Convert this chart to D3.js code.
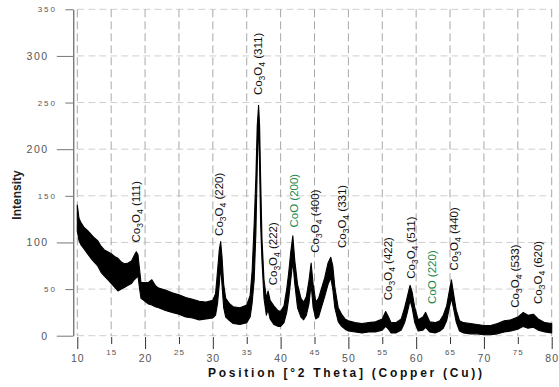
<!DOCTYPE html>
<html>
<head>
<meta charset="utf-8">
<script src="https://cdn.jsdelivr.net/npm/d3@7"></script>
<style>
  html, body { margin: 0; padding: 0; background: #fff; }
  svg { display: block; font-family: "Liberation Sans", Arial, sans-serif; }
</style>
</head>
<body>
<script>
// XRD trace of the cobalt oxide sample: band of recorded counts (low / high) per 2θ position
const twoTheta = [10.0, 10.25, 10.5, 11.0, 11.5, 12.0, 12.5, 13.0, 13.5, 14.0, 14.5, 15.0, 15.5, 16.0, 16.5, 17.0, 17.5, 18.0, 18.4, 18.7, 18.95, 19.2, 19.4, 19.8, 20.5, 21.0, 21.5, 22.0, 23.0, 24.0, 25.0, 26.0, 27.0, 28.0, 29.0, 30.0, 30.4, 30.7, 30.95, 31.15, 31.35, 31.6, 31.9, 32.5, 33.0, 34.0, 35.0, 35.5, 35.8, 36.1, 36.35, 36.55, 36.75, 36.9, 37.05, 37.25, 37.55, 37.9, 38.15, 38.45, 39.0, 39.6, 40.0, 40.5, 40.9, 41.2, 41.5, 41.8, 42.1, 42.5, 43.0, 43.4, 43.8, 44.2, 44.5, 44.8, 45.2, 45.6, 46.0, 46.5, 47.0, 47.4, 47.7, 48.0, 48.5, 49.0, 49.5, 50.0, 51.0, 52.0, 53.0, 54.0, 55.0, 55.5, 55.8, 56.3, 57.0, 57.8, 58.3, 58.7, 59.1, 59.4, 59.8, 60.3, 61.0, 61.4, 62.0, 62.8, 63.5, 64.0, 64.5, 64.9, 65.2, 65.5, 65.9, 66.4, 67.0, 68.0, 69.0, 70.0, 71.0, 72.0, 73.0, 74.0, 75.0, 75.8, 76.5, 77.3, 78.0, 79.0, 80.0];
const countsLow = [112, 102, 98, 93, 88, 83, 79, 75, 68, 64, 60, 56, 52, 48, 50, 52, 54, 56, 60, 62, 64, 50, 40, 38, 34, 33, 31, 30, 27, 25, 23, 20, 19, 17, 18, 19, 22, 35, 55, 75, 55, 30, 20, 16, 13, 12, 14, 20, 35, 60, 110, 180, 235, 180, 120, 80, 40, 22, 28, 18, 12, 10, 10, 14, 25, 40, 60, 80, 55, 30, 20, 17, 22, 35, 55, 30, 18, 20, 30, 42, 55, 62, 50, 30, 15, 10, 7, 5, 4, 3, 4, 4, 6, 10, 8, 3, 3, 6, 14, 25, 38, 30, 14, 5, 6, 9, 4, 3, 5, 8, 16, 30, 40, 30, 15, 5, 3, 2, 2, 1, 1, 2, 4, 5, 7, 10, 8, 9, 6, 4, 3];
const countsHigh = [140, 126, 122, 116, 113, 109, 105, 102, 96, 92, 90, 88, 85, 83, 79, 77, 78, 80, 86, 90, 87, 70, 57, 57, 57, 60, 54, 51, 49, 46, 44, 41, 39, 37, 36, 38, 45, 70, 92, 101, 85, 55, 40, 34, 31, 30, 33, 43, 70, 120, 170, 225, 247, 225, 169, 104, 60, 40, 48, 38, 32, 27, 26, 32, 50, 68, 90, 107, 80, 55, 40, 36, 42, 60, 78, 55, 36, 40, 50, 62, 78, 84, 75, 52, 30, 23, 18, 16, 14, 13, 14, 15, 18, 26, 22, 14, 14, 18, 30, 42, 54, 47, 30, 17, 20, 25, 15, 14, 16, 22, 32, 48, 60, 46, 28, 16, 14, 13, 12, 11, 11, 13, 16, 17, 20, 25, 22, 23, 18, 14, 13];

// Reflection labels: phase, Miller indices, 2θ position and the count where the label starts
const peakPhase = ["Co3O4", "Co3O4", "Co3O4", "Co3O4", "CoO", "Co3O4", "Co3O4", "Co3O4", "Co3O4", "CoO", "Co3O4", "Co3O4", "Co3O4"];
const peakHkl = ["(111)", "(220)", "(311)", "(222)", "(200)", "(400)", "(331)", "(422)", "(511)", "(220)", "(440)", "(533)", "(620)"];
const peakPos = [18.66, 30.94, 36.65, 38.86, 41.96, 45.06, 49.01, 55.80, 59.19, 62.32, 65.49, 74.56, 78.02];
const labelBase = [100, 107, 258, 54, 116, 89, 94, 38, 61, 34, 70, 30, 34];

// Axis ticks
const yTicks = [0, 50, 100, 150, 200, 250, 300, 350];
const xTicks = [10, 15, 20, 25, 30, 35, 40, 45, 50, 55, 60, 65, 70, 75, 80];

const W = 559, H = 387;
const svg = d3.select("body").append("svg").attr("width", W).attr("height", H);

const x = d3.scaleLinear().domain([10, 80]).range([77.3, 551.7]);
const y = d3.scaleLinear().domain([0, 350]).range([335.7, 9.3]);

// dashed grid
const grid = svg.append("g");
grid.selectAll("line.h").data(yTicks).join("line")
  .attr("x1", x(10)).attr("x2", x(80))
  .attr("y1", d => y(d)).attr("y2", d => y(d))
  .attr("stroke", "#cfcfcf").attr("stroke-width", 1).attr("stroke-dasharray", "7,4");
grid.selectAll("line.v").data(xTicks).join("line")
  .attr("x1", d => x(d)).attr("x2", d => x(d))
  .attr("y1", y(350)).attr("y2", y(0))
  .attr("stroke", "#a8a8a8").attr("stroke-width", 1).attr("stroke-dasharray", "8,4");

// diffraction trace
const pts = twoTheta.map((t, i) => ({ t, lo: countsLow[i], hi: countsHigh[i] }));
const band = d3.area().x(d => x(d.t)).y0(d => y(d.lo)).y1(d => y(d.hi));
svg.append("path").datum(pts).attr("d", band)
  .attr("fill", "#000").attr("stroke", "#000").attr("stroke-width", 1.1).attr("stroke-linejoin", "round");

// y axis
const yAxis = svg.append("g").attr("transform", "translate(73.3,0)")
  .call(d3.axisLeft(y).tickValues(yTicks).tickSizeOuter(0).tickFormat(d3.format("d")));
yAxis.select(".domain").attr("stroke", "#444").attr("stroke-width", 1);
yAxis.selectAll(".tick line").attr("stroke", "#777")
  .attr("x2", d => d % 100 === 0 ? -16.5 : -8);
yAxis.selectAll(".tick text")
  .attr("x", d => d % 100 === 0 ? -24.5 : -16.5)
  .attr("font-size", d => d % 100 === 0 ? 10.5 : 8)
  .attr("letter-spacing", d => d % 100 === 0 ? 1.6 : 1.9)
  .attr("font-family", "Liberation Sans, Arial, sans-serif")
  .attr("fill", "#555");

// x axis
const xAxis = svg.append("g").attr("transform", "translate(0,337)")
  .call(d3.axisBottom(x).tickValues(xTicks).tickSizeOuter(0).tickFormat(d3.format("d")));
xAxis.select(".domain").remove();
xAxis.selectAll(".tick line").attr("stroke", "#333")
  .attr("y2", d => d % 10 === 0 ? 12 : 7);
xAxis.selectAll(".tick text")
  .attr("y", d => d % 10 === 0 ? 25 : 18)
  .attr("dy", "0")
  .attr("font-size", d => d % 10 === 0 ? 10.5 : 8)
  .attr("letter-spacing", d => d % 10 === 0 ? 1 : 1)
  .attr("font-family", "Liberation Sans, Arial, sans-serif")
  .attr("fill", "#555");

// axis titles
svg.append("text")
  .attr("x", 345).attr("y", 376.5)
  .attr("text-anchor", "middle")
  .attr("font-size", 12).attr("font-weight", "bold")
  .attr("textLength", 274).attr("lengthAdjust", "spacing")
  .attr("fill", "#111")
  .text("Position  [°2 Theta] (Copper (Cu))");

svg.append("text")
  .attr("transform", "translate(17,195) rotate(-90)")
  .attr("text-anchor", "middle").attr("dy", "0.35em")
  .attr("font-size", 12).attr("font-weight", "bold")
  .attr("fill", "#222")
  .text("Intensity");

// reflection labels, digits of the formula as subscripts
const labels = svg.append("g");
peakPhase.forEach((phase, i) => {
  const col = phase === "CoO" ? "#1e8a4e" : "#111";
  const t = labels.append("text")
    .attr("transform", `translate(${x(peakPos[i])},${y(labelBase[i])}) rotate(-90)`)
    .attr("dy", "0.36em")
    .attr("font-size", 11.5)
    .attr("fill", col);
  let shifted = false;
  for (const ch of phase) {
    const isDigit = /\d/.test(ch);
    const sp = t.append("tspan").text(ch);
    if (isDigit && !shifted) { sp.attr("dy", 3).attr("font-size", 8.5); shifted = true; }
    else if (isDigit) { sp.attr("font-size", 8.5); }
    else if (shifted) { sp.attr("dy", -3); shifted = false; }
  }
  const tail = t.append("tspan").text(" " + peakHkl[i]);
  if (shifted) tail.attr("dy", -3);
});
</script>
</body>
</html>
